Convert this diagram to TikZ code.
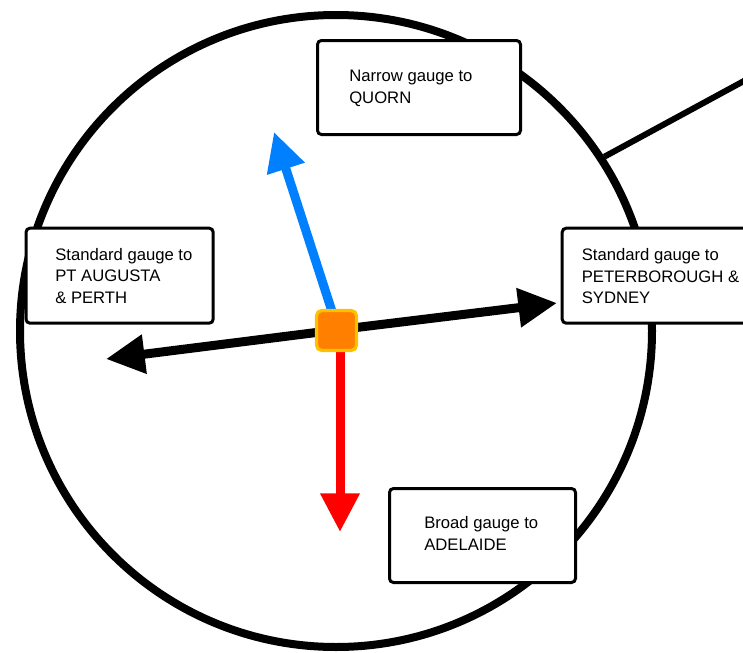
\documentclass[tikz,border=0pt]{standalone}
\usepackage{fontspec}
\setmainfont{Liberation Sans}
\usetikzlibrary{arrows.meta}
\definecolor{gaugeblue}{HTML}{0080FF}
\definecolor{gaugered}{HTML}{FF0000}
\definecolor{hubfill}{HTML}{FF8000}
\definecolor{hubedge}{HTML}{FFC000}
\tikzset{
  ring/.style={circle, draw=black, line width=6pt, inner sep=0pt, minimum size=474pt},
  spur/.style={draw=black, line width=4.5pt},
  track/.style={line width=6.75pt, -{Triangle[length=29pt,width=28pt]}},
  infobox/.style={draw=black, fill=white, line width=2.25pt, rounded corners=3pt,
    inner sep=0pt, anchor=north west},
  % base anchor of a multi-line node sits on its last line
  infotext/.style={anchor=base west, align=left, inner sep=0pt,
    font=\fontsize{12.5}{16.1}\selectfont},
  hubbox/.style={draw=hubedge, fill=hubfill, line width=2.4pt, rounded corners=4pt,
    minimum size=30pt, inner sep=0pt}
}
\begin{document}
\begin{tikzpicture}[x=0.75pt, y=-0.75pt]
  \path[use as bounding box, clip] (0,0) rectangle (743,653);

  % junction circle and the line leaving it
  \node[ring] (ring) at (336,331) {};
  \coordinate (spurend) at (790,56);
  \draw[spur] (ring.33.7) -- (spurend);

  % destination boxes
  \node[infobox, minimum width=152.25pt, minimum height=70.5pt] (north) at (316,39) {};
  \node[infobox, minimum width=140.4pt, minimum height=71.25pt] (west) at (24.5,226.7) {};
  \node[infobox, minimum width=141pt, minimum height=71.25pt] (east) at (560.7,226.7) {};
  \node[infobox, minimum width=139.5pt, minimum height=70.5pt] (south) at (388,487) {};

  \node[infotext] (northtxt) at (349,103) {Narrow gauge to\\QUORN};
  \node[infotext] (westtxt) at (55,303) {Standard gauge to\\PT AUGUSTA\\\& PERTH};
  \node[infotext] (easttxt) at (581.5,303.5) {Standard gauge to\\PETERBOROUGH \&\\SYDNEY};
  \node[infotext] (southtxt) at (424,550) {Broad gauge to\\ADELAIDE};

  % tracks leaving the hub
  \coordinate (hub) at (336,330);
  \coordinate (quorn) at (274,132);
  \coordinate (perth) at (106,359);
  \coordinate (sydney) at (557,303);
  \coordinate (adelaide) at (340,532);
  \draw[track, gaugeblue] (338,330) -- (quorn);
  \draw[track, black] (hub) -- (perth);
  \draw[track, black] (hub) -- (sydney);
  \draw[track, gaugered] (340,330) -- (adelaide);

  \node[hubbox] (hubsq) at (336.5,330.5) {};
\end{tikzpicture}
\end{document}
